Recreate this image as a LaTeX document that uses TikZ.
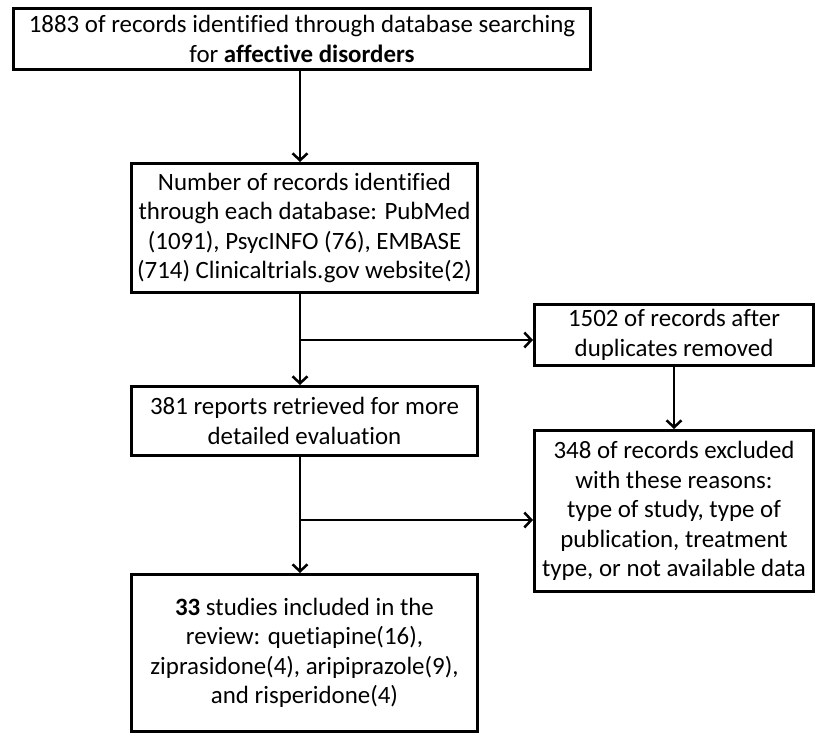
\documentclass[tikz,border=0pt]{standalone}
\usepackage{fontspec}
\setmainfont{Carlito}[Ligatures=NoCommon]
\usetikzlibrary{arrows.meta}
\usetikzlibrary{positioning}

\tikzset{
	flowbox/.style={draw, line width=3pt, align=center, inner sep=0pt, font=\fontsize{24.9}{29.5}\selectfont},
	flowarrow/.style={line width=2pt, -{Straight Barb[length=7pt,width=15pt,line width=2.5pt]}}
}

\begin{document}
\begin{tikzpicture}[x=1pt,y=-1pt]
	\useasboundingbox (0,0) rectangle (818,736);
	
	% boxes
	\node[flowbox, minimum width=577pt, minimum height=61pt] (srch) at (302,39) {1883 of records identified through database searching\\for \textbf{affective disorders}};
	\node[flowbox, minimum width=346pt, minimum height=129pt] (dbs) at (304.5,228) {Number of records identified\\through each database: PubMed\\(1091), PsycINFO (76), EMBASE\\(714) Clinicaltrials.gov website(2)};
	\node[flowbox, minimum width=346pt, minimum height=69pt] (retr) at (304.5,421) {381 reports retrieved for more\\detailed evaluation};
	\node[flowbox, minimum width=279pt, minimum height=61pt] (dup) at (674,335) {1502 of records after\\duplicates removed};
	\node[flowbox, minimum width=279pt, minimum height=161pt] (excl) at (674,511) {348 of records excluded\\with these reasons:\\type of study, type of\\publication, treatment\\type, or not available data};
	\node[flowbox, minimum width=346pt, minimum height=157pt] (incl) at (304.5,653) {\textbf{33} studies included in the\\review: quetiapine(16),\\ziprasidone(4), aripiprazole(9),\\and risperidone(4)};
	
	% branch points
	\coordinate (j1) at (300,340);
	\coordinate (j2) at (300,520);
	
	% arrows
	\draw[flowarrow] (srch.south -| j1) -- (dbs.north -| j1);
	\draw[flowarrow] (dbs.south -| j1) -- (retr.north -| j1);
	\draw[flowarrow] (j1) -- (j1 -| dup.west);
	\draw[flowarrow] (dup.south) -- (excl.north);
	\draw[flowarrow] (retr.south -| j2) -- (incl.north -| j2);
	\draw[flowarrow] (j2) -- (j2 -| excl.west);
\end{tikzpicture}
\end{document}
